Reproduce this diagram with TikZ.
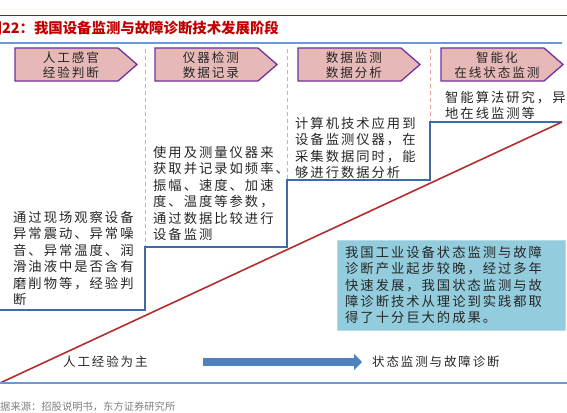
\documentclass[tikz,border=0pt]{standalone}
\usepackage{fontspec}
\usetikzlibrary{arrows.meta}
\newfontfamily\cjk{Noto Sans CJK SC}[LetterSpace=15]
\newfontfamily\cjkplain{Noto Sans CJK SC}
\definecolor{titlered}{HTML}{C00000}
\definecolor{stagefill}{HTML}{E6B9B8}
\definecolor{stageedge}{HTML}{7030A0}
\definecolor{stepblue}{HTML}{3E6BA8}
\definecolor{diagred}{HTML}{B22D2D}
\definecolor{dashpink}{HTML}{E8A3A3}
\definecolor{notefill}{HTML}{93CDDD}
\definecolor{rulelight}{HTML}{6A9AD6}
\definecolor{arrowblue}{HTML}{4F81BD}
\definecolor{textgray}{HTML}{262626}
\tikzset{
  stagebox/.style={draw=stageedge, fill=stagefill, line width=1.3pt, line join=miter},
  stagelabel/.style={font=\cjk\fontsize{12.6}{14.5}\selectfont, align=center, text=textgray, inner sep=0pt},
  bodytext/.style={font=\cjk\fontsize{13.3}{16.5}\selectfont, align=left, text=textgray, inner sep=0pt, anchor=north west},
  notebox/.style={bodytext, fill=notefill, draw=notefill!70!white, text width=212pt, inner xsep=8pt, inner ysep=6pt, minimum width=225pt, minimum height=90pt, font=\cjk\fontsize{13.3}{16.3}\selectfont},
  bottomlabel/.style={font=\cjk\fontsize{12.5}{14}\selectfont, text=textgray, inner sep=0pt, anchor=west},
  bigarrow/.style={arrowblue, line width=8pt, -{Triangle[length=8pt, width=16pt]}}
}
\begin{document}
\begin{tikzpicture}[x=1pt, y=-1pt]
  \useasboundingbox (0,0) rectangle (567,412);
  % title and rules
  \draw[titlered, thin] (0,15) -- (567,15);
  \node[font=\cjkplain\bfseries\fontsize{14.4}{16}\selectfont, text=titlered, anchor=west, inner sep=0pt] (title) at (-12.5,28) {图22：我国设备监测与故障诊断技术发展阶段};
  \draw[rulelight, line width=1.5pt] (0,43) -- (562,43);
  % stages
  \foreach \sx/\sname/\slab in {15/s1/{人工感官\\经验判断}, 155/s2/{仪器检测\\数据记录}, 298/s3/{数据监测\\数据分析}, 441/s4/{智能化\\在线状态监测}} {
    \draw[stagebox] (\sx,48) -- ++(103,0) -- ++(19,16.5) -- ++(-19,16.5) -- ++(-103,0) -- cycle;
    \node[stagelabel] (\sname) at (\sx+56,65) {\slab};
  }
  \foreach \dx/\dy in {145/247, 287/180, 430/122}
    \draw[dashpink, line width=1pt, dash pattern=on 4pt off 3pt] (\dx,49) -- (\dx,\dy);
  % steps and trend
  \draw[stepblue, line width=1.6pt] (0,310) -- (145,310) -- (145,247) -- (287,247) -- (287,180) -- (430,180) -- (430,122) -- (562,122);
  \draw[diagred, line width=1.6pt] (0,383) -- (562,122);
  \node[bodytext] (t1) at (13,211) {通过现场观察设备\\异常震动、异常噪\\音、异常温度、润\\滑油液中是否含有\\磨削物等，经验判\\断};
  \node[bodytext] (t2) at (153,146) {使用及测量仪器来\\获取并记录如频率、\\振幅、速度、加速\\度、温度等参数，\\通过数据比较进行\\设备监测};
  \node[bodytext] (t3) at (295,117) {计算机技术应用到\\设备监测仪器，在\\采集数据同时，能\\够进行数据分析};
  \node[bodytext] (t4) at (445,91) {智能算法研究，异\\地在线监测等};
  \node[notebox] (note) at (337,240) {我国工业设备状态监测与故障\\诊断产业起步较晚，经过多年\\快速发展，我国状态监测与故\\障诊断技术从理论到实践都取\\得了十分巨大的成果。};
  % bottom
  \node[bottomlabel] (manual) at (63,362) {人工经验为主};
  \node[bottomlabel] (cbm) at (372,362) {状态监测与故障诊断};
  \coordinate (arrowA) at (203,362);
  \coordinate (arrowB) at (362,362);
  \draw[bigarrow] (arrowA) -- (arrowB);
  \draw[rulelight, line width=1.2pt] (0,383) -- (567,383);
  \node[font=\cjkplain\fontsize{10.3}{12}\selectfont, text=gray, anchor=west, inner sep=0pt] (src) at (-10.3,407) {数据来源：招股说明书，东方证券研究所};
\end{tikzpicture}
\end{document}
